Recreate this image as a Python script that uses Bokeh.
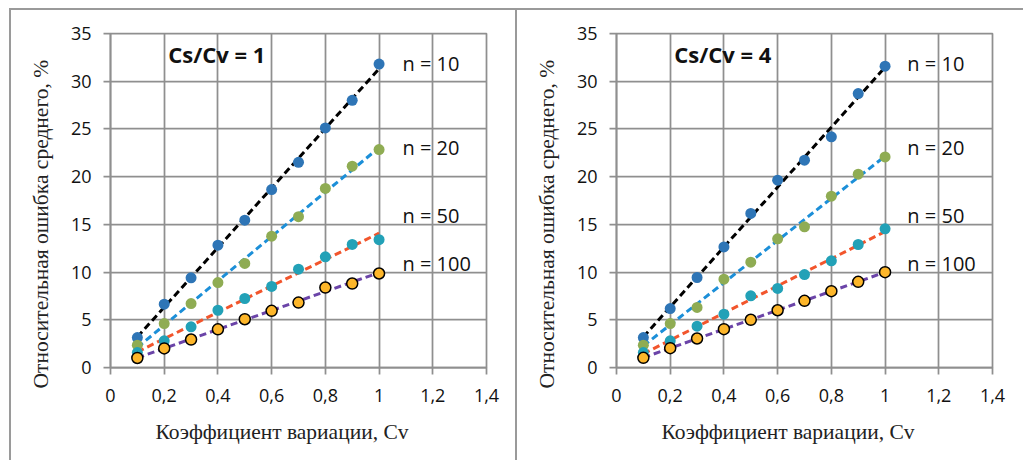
import numpy as np
from bokeh.plotting import figure
from bokeh.layouts import row, column
from bokeh.models import FixedTicker, ColumnDataSource, Spacer, Title
from bokeh.core.properties import value
from bokeh.embed import file_html
from bokeh.resources import INLINE

cv = [0.1, 0.2, 0.3, 0.4, 0.5, 0.6, 0.7, 0.8, 0.9, 1.0]

# Cs/Cv = 1
left_n10 = [3.14, 6.64, 9.4, 12.82, 15.44, 18.65, 21.5, 25.1, 28.0, 31.8]
left_n20 = [2.34, 4.6, 6.7, 8.9, 10.9, 13.76, 15.8, 18.76, 21.1, 22.84]
left_n50 = [1.57, 2.8, 4.26, 6.0, 7.23, 8.5, 10.3, 11.6, 12.9, 13.4]
left_n100 = [1.0, 2.0, 2.93, 4.0, 5.06, 5.94, 6.8, 8.38, 8.8, 9.85]

# Cs/Cv = 4
right_n10 = [3.14, 6.18, 9.43, 12.64, 16.14, 19.63, 21.73, 24.17, 28.71, 31.57]
right_n20 = [2.34, 4.6, 6.29, 9.26, 11.04, 13.48, 14.74, 17.95, 20.26, 22.07]
right_n50 = [1.57, 2.8, 4.33, 5.59, 7.51, 8.28, 9.74, 11.18, 12.89, 14.53]
right_n100 = [1.01, 2.03, 3.04, 4.02, 5.0, 6.0, 6.99, 8.0, 8.98, 9.99]

series_names = ["n = 10", "n = 20", "n = 50", "n = 100"]
label_y = [31.9, 23.1, 15.9, 10.9]
x_ticks = [0, 0.2, 0.4, 0.6, 0.8, 1.0, 1.2, 1.4]
x_tick_labels = ["0", "0,2", "0,4", "0,6", "0,8", "1", "1,2", "1,4"]
y_ticks = [0, 5, 10, 15, 20, 25, 30, 35]
x_title = "Коэффициент вариации, Cv"
y_title = "Относительная ошибка среднего, %"

marker_colors = ["#2e75b6", "#8fac53", "#22a1b7", "#fdb62a"]
line_colors = ["#000000", "#1c8fd8", "#f2552c", "#6b44a8"]
GRID = "#8f8f8f"
BORDER = "#9a9a9a"


def make_panel(title, data, width, right_border, label_x):
    p = figure(width=width, height=450, x_range=(0, 1.4), y_range=(0, 35),
               output_backend="svg", toolbar_location=None,
               min_border_left=99, min_border_right=right_border,
               min_border_top=23, min_border_bottom=93)
    p.background_fill_color = "white"
    p.border_fill_color = "white"
    p.outline_line_color = GRID
    p.outline_line_width = 1.75

    p.xaxis.ticker = FixedTicker(ticks=x_ticks)
    p.xaxis.major_label_overrides = {t: l for t, l in zip(x_ticks, x_tick_labels)}
    p.yaxis.ticker = FixedTicker(ticks=y_ticks)
    for ax in (p.xaxis, p.yaxis):
        ax.axis_line_color = GRID
        ax.axis_line_width = 1.75
        ax.major_tick_line_color = GRID
        ax.major_tick_line_width = 1.75
        ax.major_tick_out = 7
        ax.major_tick_in = 0
        ax.minor_tick_line_color = None
        ax.major_label_text_font = "Open Sans"
        ax.major_label_text_font_size = "18px"
        ax.major_label_text_color = "#111111"
    p.xaxis.major_label_standoff = 14
    p.yaxis.major_label_standoff = 12
    p.grid.grid_line_color = GRID
    p.grid.grid_line_width = 1.75

    p.add_layout(Title(text=x_title, align="left", offset=45,
                       text_font="Liberation Serif", text_font_size="21.5px",
                       text_font_style="normal", text_color="#222222",
                       standoff=26), "below")
    p.add_layout(Title(text=y_title, align="left", offset=-21,
                       text_font="Liberation Serif", text_font_size="21.5px",
                       text_font_style="normal", text_color="#222222",
                       standoff=30), "left")

    xs = np.array(cv)
    for i, ys in enumerate(data):
        k, b = np.polyfit(xs, np.array(ys), 1)
        xl = [cv[0], cv[-1]]
        p.line(xl, [k * xl[0] + b, k * xl[1] + b], line_color=line_colors[i],
               line_width=3, line_dash="7 4")
    for i, ys in enumerate(data):
        if i == 3:
            p.scatter(cv, ys, size=11, fill_color=marker_colors[i],
                      line_color="black", line_width=1.5)
        else:
            p.scatter(cv, ys, size=11, fill_color=marker_colors[i], line_color=None)

    src = ColumnDataSource(dict(x=[label_x] * 4, y=label_y, t=series_names))
    p.text(x="x", y="y", text="t", source=src, text_font=value("Open Sans"),
           text_font_size="20px", text_baseline="middle", text_align="left",
           text_color="#111111")
    p.text(x=[0.215], y=[32.9], text=[title], text_font=value("Open Sans"),
           text_font_size="22px", text_font_style="bold", text_baseline="middle",
           text_align="left", text_color="#111111")
    return p


p1 = make_panel("Cs/Cv = 1", [left_n10, left_n20, left_n50, left_n100],
                504, 29, 1.087)
p2 = make_panel("Cs/Cv = 4", [right_n10, right_n20, right_n50, right_n100],
                506, 31, 1.083)

gray = {"background-color": BORDER}
layout = column(
    Spacer(width=1023, height=8),
    row(Spacer(width=9, height=2), Spacer(width=1014, height=2, styles=gray)),
    row(Spacer(width=9, height=450),
        Spacer(width=2, height=450, styles=gray),
        p1,
        Spacer(width=2, height=450, styles=gray),
        p2),
)
open("out.html", "w").write(file_html(layout, INLINE))
